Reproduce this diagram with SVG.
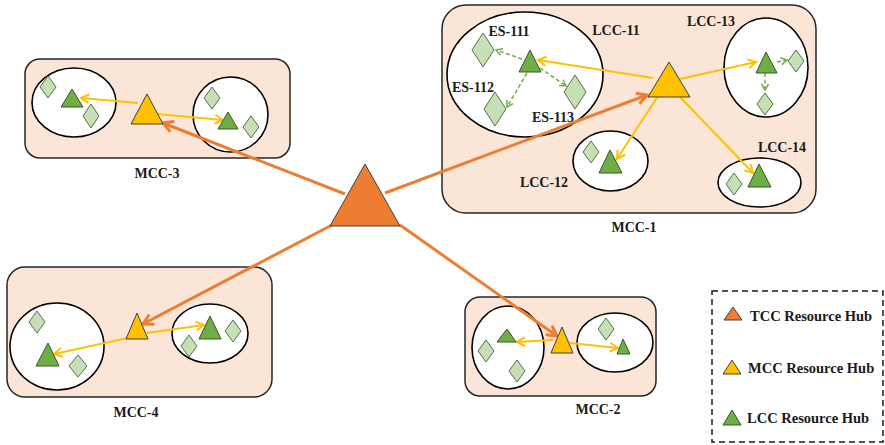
<svg xmlns="http://www.w3.org/2000/svg" width="885" height="445" viewBox="0 0 885 445">
  <defs>
    <style>
      .mcc { fill: #FBE5D6; stroke: #262626; stroke-width: 1.5; }
      .lcc { fill: #FFFFFF; stroke: #000000; stroke-width: 1.6; }
      .es { fill: #C5E0B4; stroke: #5A6B50; stroke-width: 1; }
      .hub-t { fill: #ED7D31; stroke: #404040; stroke-width: 1; }
      .hub-m { fill: #FFC000; stroke: #404040; stroke-width: 1; }
      .hub-l { fill: #70AD47; stroke: #385723; stroke-width: 1; }
      .lbl { font-family: "Liberation Serif", "Times New Roman", serif; font-weight: bold; font-size: 14px; fill: #1a1a1a; text-anchor: middle; }
      .leg { font-family: "Liberation Serif", "Times New Roman", serif; font-weight: bold; font-size: 14.5px; fill: #1a1a1a; }
      .c-t { stroke: #ED7D31; stroke-width: 3; fill: none; marker-end: url(#ah-t); }
      .c-m { stroke: #FFC000; stroke-width: 2; fill: none; marker-end: url(#ah-m); }
      .c-l { stroke: #70AD47; stroke-width: 1.5; stroke-dasharray: 4 2.5; fill: none; marker-end: url(#ah-l); }
    </style>
    <marker id="ah-t" markerUnits="userSpaceOnUse" viewBox="0 0 14 14" refX="12" refY="7" markerWidth="14" markerHeight="14" orient="auto">
      <path d="M2,1.5 L12,7 L2,12.5" fill="none" stroke="#ED7D31" stroke-width="3" stroke-linejoin="miter"/>
    </marker>
    <marker id="ah-m" markerUnits="userSpaceOnUse" viewBox="0 0 12 12" refX="10" refY="6" markerWidth="12" markerHeight="12" orient="auto">
      <path d="M2,1.5 L10,6 L2,10.5" fill="none" stroke="#FFC000" stroke-width="2"/>
    </marker>
    <marker id="ah-l" markerUnits="userSpaceOnUse" viewBox="0 0 10 10" refX="8" refY="5" markerWidth="10" markerHeight="10" orient="auto">
      <path d="M2,1.5 L8,5 L2,8.5" fill="none" stroke="#70AD47" stroke-width="1.5"/>
    </marker>
  </defs>

  <!-- MCC-1 cluster -->
  <g id="mcc-1">
    <rect class="mcc" x="442" y="5" width="374" height="208" rx="24"/>
    <g id="lcc-11">
      <ellipse class="lcc" cx="525" cy="74.5" rx="78" ry="62.5"/>
      <polygon id="es-111" class="es" points="483,33 494,50 483,67 472,50"/>
      <polygon id="es-112" class="es" points="495,92 506,109 495,126 484,109"/>
      <polygon id="es-113" class="es" points="575,75 586,92 575,109 564,92"/>
      <text class="lbl" x="509" y="36">ES-111</text>
      <text class="lbl" x="473" y="92">ES-112</text>
      <text class="lbl" x="553" y="122">ES-113</text>
      <text class="lbl" x="616" y="35">LCC-11</text>
    </g>
    <g id="lcc-12">
      <ellipse class="lcc" cx="610.5" cy="161" rx="37.5" ry="30"/>
      <polygon class="es" points="591,141 599,152 591,163 583,152"/>
      <text class="lbl" x="544" y="187">LCC-12</text>
    </g>
    <g id="lcc-13">
      <ellipse class="lcc" cx="766" cy="67.5" rx="42" ry="49.5"/>
      <polygon class="es" points="796,50 804,61 796,72 788,61"/>
      <polygon class="es" points="765,93 773,104 765,115 757,104"/>
      <text class="lbl" x="711" y="26">LCC-13</text>
    </g>
    <g id="lcc-14">
      <ellipse class="lcc" cx="759.5" cy="182.5" rx="41.5" ry="24.5"/>
      <polygon class="es" points="734,173 742,184 734,195 726,184"/>
      <text class="lbl" x="782" y="152">LCC-14</text>
    </g>
    <text class="lbl" x="634" y="232">MCC-1</text>
  </g>

  <!-- MCC-3 cluster -->
  <g id="mcc-3">
    <rect class="mcc" x="25" y="59" width="265" height="99" rx="15"/>
    <ellipse class="lcc" cx="74" cy="102.5" rx="42" ry="34.5"/>
    <ellipse class="lcc" cx="230.5" cy="114.5" rx="37.5" ry="37.5"/>
    <polygon class="es" points="48,76 56,87 48,98 40,87"/>
    <polygon class="es" points="91,104 99,116 91,128 83,116"/>
    <polygon class="es" points="212,87 220,98 212,109 204,98"/>
    <polygon class="es" points="251,116 259,127 251,138 243,127"/>
    <text class="lbl" x="157" y="178">MCC-3</text>
  </g>

  <!-- MCC-4 cluster -->
  <g id="mcc-4">
    <rect class="mcc" x="7" y="267" width="265" height="130" rx="18"/>
    <ellipse class="lcc" cx="57" cy="346.5" rx="47" ry="43.5"/>
    <ellipse class="lcc" cx="210" cy="333.5" rx="38" ry="29.5"/>
    <polygon class="es" points="37,311 45,322 37,333 29,322"/>
    <polygon class="es" points="78,355 87,366 78,377 69,366"/>
    <polygon class="es" points="189,335 197,346 189,357 181,346"/>
    <polygon class="es" points="233,320 241,331 233,342 225,331"/>
    <text class="lbl" x="136" y="417">MCC-4</text>
  </g>

  <!-- MCC-2 cluster -->
  <g id="mcc-2">
    <rect class="mcc" x="465" y="297" width="191" height="99" rx="15"/>
    <ellipse class="lcc" cx="508" cy="347.5" rx="36" ry="41.5"/>
    <ellipse class="lcc" cx="615" cy="342.5" rx="38" ry="29.5"/>
    <polygon class="es" points="486,340 494,351 486,362 478,351"/>
    <polygon class="es" points="517,360 525,371 517,382 509,371"/>
    <polygon class="es" points="606,318 614,329 606,340 598,329"/>
    <text class="lbl" x="598" y="414">MCC-2</text>
  </g>

  <!-- connectors -->
  <g id="connectors">
    <!-- TCC to MCC hubs -->
    <line class="c-t" x1="345" y1="194" x2="163" y2="123"/>
    <line class="c-t" x1="385" y1="193" x2="647" y2="95"/>
    <line class="c-t" x1="332" y1="225" x2="143" y2="324"/>
    <line class="c-t" x1="400" y1="225" x2="557" y2="336"/>
    <!-- MCC to LCC hubs -->
    <line class="c-m" x1="653" y1="78" x2="538" y2="60"/>
    <line class="c-m" x1="680" y1="79" x2="756" y2="62"/>
    <line class="c-m" x1="658" y1="96" x2="617" y2="159"/>
    <line class="c-m" x1="680" y1="97" x2="753" y2="173"/>
    <line class="c-m" x1="138" y1="103" x2="81" y2="98"/>
    <line class="c-m" x1="157" y1="114" x2="223" y2="120"/>
    <line class="c-m" x1="128" y1="338" x2="54" y2="354"/>
    <line class="c-m" x1="147" y1="333" x2="204" y2="325"/>
    <line class="c-m" x1="553" y1="340" x2="517" y2="342"/>
    <line class="c-m" x1="570" y1="343" x2="618" y2="348"/>
    <!-- LCC to edge servers -->
    <line class="c-l" x1="522" y1="59" x2="496" y2="50"/>
    <line class="c-l" x1="527" y1="73" x2="507" y2="107"/>
    <line class="c-l" x1="540" y1="68" x2="566" y2="86"/>
    <line class="c-l" x1="777" y1="62" x2="787" y2="60"/>
    <line class="c-l" x1="765" y1="73" x2="765" y2="90"/>
  </g>

  <!-- resource hubs -->
  <g id="tcc-hub"><polygon class="hub-t" points="365,164 400,226 330,226"/></g>
  <g id="mcc-1-hub"><polygon class="hub-m" points="669,62 690,97 648,97"/></g>
  <g id="mcc-3-hub"><polygon class="hub-m" points="147,94 163,124 131,124"/></g>
  <g id="mcc-4-hub"><polygon class="hub-m" points="137,313 148,339 126,339"/></g>
  <g id="mcc-2-hub"><polygon class="hub-m" points="562,327 573,353 551,353"/></g>
  <g id="lcc-11-hub"><polygon class="hub-l" points="530,50 541,72 519,72"/></g>
  <g id="lcc-12-hub"><polygon class="hub-l" points="610,150 622,173 599,173"/></g>
  <g id="lcc-13-hub"><polygon class="hub-l" points="766,52 777,73 756,73"/></g>
  <g id="lcc-14-hub"><polygon class="hub-l" points="759,164 771,187 748,187"/></g>
  <g id="lcc-31-hub"><polygon class="hub-l" points="72,89 83,107 61,107"/></g>
  <g id="lcc-32-hub"><polygon class="hub-l" points="228,112 238,129 218,129"/></g>
  <g id="lcc-41-hub"><polygon class="hub-l" points="48,343 59,366 36,366"/></g>
  <g id="lcc-42-hub"><polygon class="hub-l" points="210,316 221,339 199,339"/></g>
  <g id="lcc-21-hub"><polygon class="hub-l" points="507,329 516,342 497,342"/></g>
  <g id="lcc-22-hub"><polygon class="hub-l" points="623,339 630,354 617,354"/></g>

  <!-- legend -->
  <g id="legend">
    <rect x="712" y="291" width="171" height="151" fill="#FFFFFF" stroke="#1a1a1a" stroke-width="1.5" stroke-dasharray="6 4"/>
    <polygon class="hub-t" points="733,307 742,320 724,320"/>
    <text class="leg" x="750" y="321">TCC Resource Hub</text>
    <polygon class="hub-m" points="732,360 741,374 723,374"/>
    <text class="leg" x="748" y="373">MCC Resource Hub</text>
    <polygon class="hub-l" points="732,410 741,425 723,425"/>
    <text class="leg" x="747" y="423">LCC Resource Hub</text>
  </g>
</svg>
